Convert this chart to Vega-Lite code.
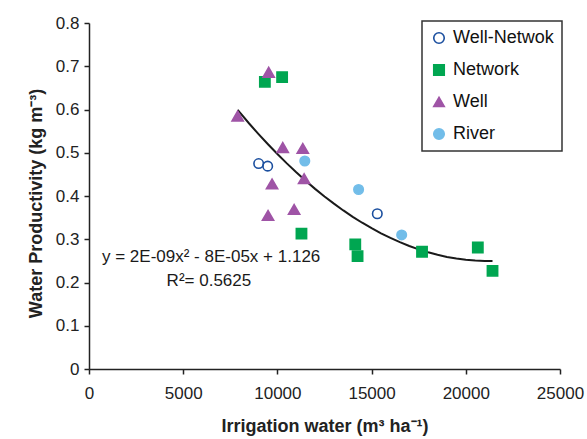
{
  "$schema": "https://vega.github.io/schema/vega-lite/v6.json",
  "width": 471,
  "height": 346,
  "autosize": {"type": "none"},
  "padding": {"left": 89, "top": 23, "right": 27, "bottom": 70},
  "background": "white",
  "config": {
    "view": {"stroke": null},
    "font": "Liberation Sans",
    "axis": {
      "domainColor": "#222222",
      "domainWidth": 1.5,
      "tickColor": "#222222",
      "tickWidth": 1.5,
      "tickSize": 5,
      "grid": false,
      "labelFont": "Liberation Sans",
      "labelFontSize": 17,
      "labelColor": "#222222",
      "titleFont": "Liberation Sans",
      "titleFontSize": 18,
      "titleFontWeight": "bold",
      "titleColor": "#222222"
    },
    "legend": {
      "labelFont": "Liberation Sans",
      "labelFontSize": 18,
      "labelColor": "#111111",
      "padding": 8,
      "strokeColor": "#333333",
      "strokeWidth": 1.5,
      "fillColor": "white",
      "rowPadding": 14,
      "labelOffset": 5,
      "symbolSize": 110,
      "symbolStrokeWidth": 1.6
    }
  },
  "datasets": {
    "pts": [
      {"type": "Well-Netwok", "water": 9005, "wp": 0.475},
      {"type": "Well-Netwok", "water": 9484, "wp": 0.469},
      {"type": "Well-Netwok", "water": 15302, "wp": 0.359},
      {"type": "Network", "water": 9335, "wp": 0.664},
      {"type": "Network", "water": 10250, "wp": 0.675},
      {"type": "Network", "water": 11277, "wp": 0.313},
      {"type": "Network", "water": 14133, "wp": 0.288},
      {"type": "Network", "water": 14255, "wp": 0.261},
      {"type": "Network", "water": 17677, "wp": 0.271},
      {"type": "Network", "water": 20638, "wp": 0.281},
      {"type": "Network", "water": 21418, "wp": 0.227},
      {"type": "Well", "water": 7890, "wp": 0.585},
      {"type": "Well", "water": 9537, "wp": 0.686},
      {"type": "Well", "water": 10284, "wp": 0.512},
      {"type": "Well", "water": 11347, "wp": 0.510},
      {"type": "Well", "water": 9716, "wp": 0.428},
      {"type": "Well", "water": 11418, "wp": 0.440},
      {"type": "Well", "water": 10887, "wp": 0.369},
      {"type": "Well", "water": 9503, "wp": 0.355},
      {"type": "River", "water": 11454, "wp": 0.481},
      {"type": "River", "water": 14309, "wp": 0.415},
      {"type": "River", "water": 16596, "wp": 0.310}
    ],
    "trend": [
      {"water": 7890, "wp": 0.599},
      {"water": 8500, "wp": 0.5677},
      {"water": 9000, "wp": 0.5432},
      {"water": 9500, "wp": 0.5196},
      {"water": 10000, "wp": 0.4970},
      {"water": 10500, "wp": 0.4754},
      {"water": 11000, "wp": 0.4548},
      {"water": 11500, "wp": 0.4352},
      {"water": 12000, "wp": 0.4165},
      {"water": 12500, "wp": 0.3989},
      {"water": 13000, "wp": 0.3823},
      {"water": 13500, "wp": 0.3666},
      {"water": 14000, "wp": 0.3519},
      {"water": 14500, "wp": 0.3382},
      {"water": 15000, "wp": 0.3255},
      {"water": 15500, "wp": 0.3137},
      {"water": 16000, "wp": 0.3030},
      {"water": 16500, "wp": 0.2932},
      {"water": 17000, "wp": 0.2844},
      {"water": 17500, "wp": 0.2766},
      {"water": 18000, "wp": 0.2699},
      {"water": 18500, "wp": 0.2641},
      {"water": 19000, "wp": 0.2592},
      {"water": 19500, "wp": 0.2554},
      {"water": 20000, "wp": 0.2525},
      {"water": 20500, "wp": 0.2506},
      {"water": 21000, "wp": 0.2497},
      {"water": 21418, "wp": 0.2498}
    ],
    "labels": [
      {"water": 690, "wp": 0.258, "label": "y = 2E-09x² - 8E-05x + 1.126"},
      {"water": 4120, "wp": 0.203, "label": "R²= 0.5625"}
    ]
  },
  "encoding": {
    "x": {
      "field": "water",
      "type": "quantitative",
      "scale": {"domain": [0, 25000], "nice": false},
      "axis": {
        "values": [0, 5000, 10000, 15000, 20000, 25000],
        "format": "d",
        "labelPadding": 11,
        "titlePadding": 16,
        "labelFlush": false
      },
      "title": "Irrigation water (m³ ha⁻¹)"
    },
    "y": {
      "field": "wp",
      "type": "quantitative",
      "scale": {"domain": [0, 0.8], "nice": false},
      "axis": {
        "values": [0, 0.1, 0.2, 0.3, 0.4, 0.5, 0.6, 0.7, 0.8],
        "labelExpr": "datum.value == 0 ? '0' : format(datum.value, '.1f')",
        "labelPadding": 5,
        "titlePadding": 10,
        "titleY": 180,
        "labelFlush": false
      },
      "title": "Water Productivity (kg m⁻³)"
    }
  },
  "layer": [
    {
      "data": {"name": "trend"},
      "mark": {"type": "line", "color": "#1a1a1a", "strokeWidth": 2},
      "encoding": {}
    },
    {
      "data": {"name": "pts"},
      "transform": [{"filter": "datum.type == 'Network'"}],
      "mark": {"type": "point", "filled": false, "opacity": 1, "strokeWidth": 1.6, "size": 105},
      "encoding": {
        "shape": {"field": "type", "type": "nominal", "scale": {"domain": ["Well-Netwok", "Network", "Well", "River"], "range": ["circle", "square", "triangle-up", "circle"]}, "legend": {"title": null, "orient": "none", "legendX": 333, "legendY": -2}},
        "stroke": {"field": "type", "type": "nominal", "scale": {"domain": ["Well-Netwok", "Network", "Well", "River"], "range": ["#1b4f9f", "#00a651", "#9f54a6", "#72bde9"]}, "legend": {"title": null, "orient": "none", "legendX": 333, "legendY": -2}},
        "fill": {"field": "type", "type": "nominal", "scale": {"domain": ["Well-Netwok", "Network", "Well", "River"], "range": ["transparent", "#00a651", "#9f54a6", "#72bde9"]}, "legend": {"title": null, "orient": "none", "legendX": 333, "legendY": -2}}
      }
    },
    {
      "data": {"name": "pts"},
      "transform": [{"filter": "datum.type == 'Well'"}],
      "mark": {"type": "point", "filled": false, "opacity": 1, "strokeWidth": 1.6, "size": 125},
      "encoding": {
        "shape": {"field": "type", "type": "nominal", "scale": {"domain": ["Well-Netwok", "Network", "Well", "River"], "range": ["circle", "square", "triangle-up", "circle"]}, "legend": {"title": null, "orient": "none", "legendX": 333, "legendY": -2}},
        "stroke": {"field": "type", "type": "nominal", "scale": {"domain": ["Well-Netwok", "Network", "Well", "River"], "range": ["#1b4f9f", "#00a651", "#9f54a6", "#72bde9"]}, "legend": {"title": null, "orient": "none", "legendX": 333, "legendY": -2}},
        "fill": {"field": "type", "type": "nominal", "scale": {"domain": ["Well-Netwok", "Network", "Well", "River"], "range": ["transparent", "#00a651", "#9f54a6", "#72bde9"]}, "legend": {"title": null, "orient": "none", "legendX": 333, "legendY": -2}}
      }
    },
    {
      "data": {"name": "pts"},
      "transform": [{"filter": "datum.type == 'Well-Netwok' || datum.type == 'River'"}],
      "mark": {"type": "point", "filled": false, "opacity": 1, "strokeWidth": 1.6, "size": 90},
      "encoding": {
        "shape": {"field": "type", "type": "nominal", "scale": {"domain": ["Well-Netwok", "Network", "Well", "River"], "range": ["circle", "square", "triangle-up", "circle"]}, "legend": {"title": null, "orient": "none", "legendX": 333, "legendY": -2}},
        "stroke": {"field": "type", "type": "nominal", "scale": {"domain": ["Well-Netwok", "Network", "Well", "River"], "range": ["#1b4f9f", "#00a651", "#9f54a6", "#72bde9"]}, "legend": {"title": null, "orient": "none", "legendX": 333, "legendY": -2}},
        "fill": {"field": "type", "type": "nominal", "scale": {"domain": ["Well-Netwok", "Network", "Well", "River"], "range": ["transparent", "#00a651", "#9f54a6", "#72bde9"]}, "legend": {"title": null, "orient": "none", "legendX": 333, "legendY": -2}}
      }
    },
    {
      "data": {"name": "labels"},
      "mark": {"type": "text", "align": "left", "baseline": "middle", "fontSize": 17, "font": "Liberation Sans", "color": "#1a1a1a"},
      "encoding": {
        "text": {"field": "label", "type": "nominal"}
      }
    }
  ]
}
